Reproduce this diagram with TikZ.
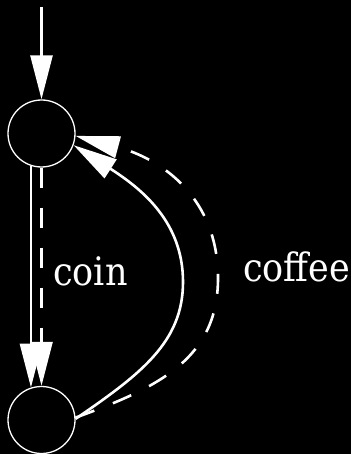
\documentclass[tikz,border=0pt]{standalone}
\usepackage{fontspec}
\setmainfont{DejaVu Serif}
\usetikzlibrary{arrows.meta}
\begin{document}
\begin{tikzpicture}[x=1pt,y=-1pt,
  state/.style={circle,draw=white,line width=1.3pt,minimum size=67pt,inner sep=0pt},
  edge/.style={white,line width=2.6pt,-{Triangle[length=44pt,width=22pt]}},
  dashedge/.style={edge,dash pattern=on 20pt off 20pt},
  lbl/.style={text=white,inner sep=0pt,anchor=base west,font=\fontsize{35}{40}\selectfont}]
\fill[black] (0,0) rectangle (351,454);
\useasboundingbox (0,0) rectangle (351,454);
\node[state] (q0) at (41.5,133.5) {};
\node[state] (q1) at (41.5,420) {};
\coordinate (init) at (41.5,7);
\coordinate (m1) at (183,282);
\coordinate (m2) at (218,278);
\draw[edge] (init) -- (q0);
\draw[edge] (q0.252) -- (q1.108);
\draw[dashedge] (q0.south) -- (q1.north);
\draw[edge] (q1.2) .. controls (141,374) and (183,342) .. (m1) .. controls (183,222) and (142,189) .. (q0.-20);
\draw[dashedge] (q1.4) .. controls (160,387) and (218,358) .. (m2) .. controls (218,198) and (162,159) .. (q0.-4);
\node[lbl] (coin) at (53,285) {\scalebox{1}[1.12]{coin}};
\node[lbl] (coffee) at (243,281) {\scalebox{1}[1.12]{coffee}};
\end{tikzpicture}
\end{document}
